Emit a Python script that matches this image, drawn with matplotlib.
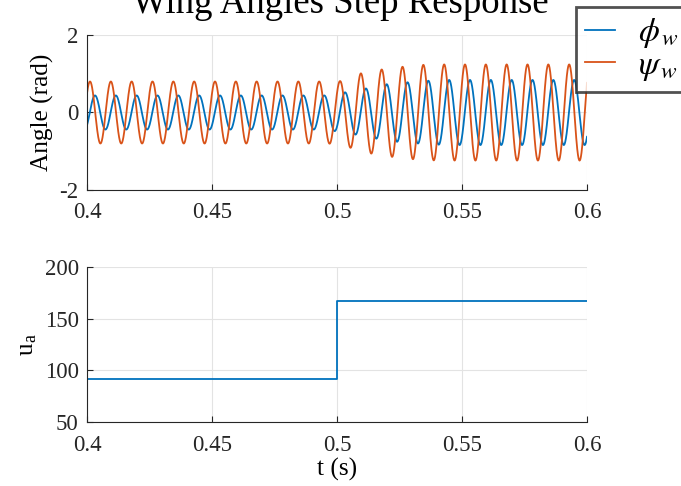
import matplotlib.pyplot as plt
import numpy as np

plt.rcParams['font.family'] = ['Liberation Serif', 'DejaVu Serif']
plt.rcParams['mathtext.fontset'] = 'stix'
plt.rcParams['axes.unicode_minus'] = False

# wingbeat
freq = 120.0            # Hz
t_peak0 = 0.4012        # first psi_w peak
phi_lag = 0.0020        # phi_w peak comes later by this

# peak amplitude of each wingbeat cycle (rad)
psi_amp = [0.80]*12 + [0.81, 1.01, 1.11, 1.18, 1.23, 1.24] + [1.24]*7
phi_amp = [0.44]*12 + [0.52, 0.62, 0.73, 0.78, 0.82, 0.84] + [0.84]*7

# control input
u_t = [0.4, 0.5, 0.6]
u_val = [91.7, 167.0, 167.0]

t = np.linspace(0.4, 0.6, 4000)
period = 1.0/freq
cyc_t = t_peak0 + period*np.arange(len(psi_amp))
psi = np.interp(t, cyc_t, psi_amp)*np.cos(2*np.pi*freq*(t - t_peak0))
phi = np.interp(t, cyc_t + phi_lag, phi_amp)*np.cos(2*np.pi*freq*(t - t_peak0 - phi_lag))

blue = '#0072BD'
orange = '#D95319'

fig = plt.figure(figsize=(6.81, 4.86), dpi=100)
ax1 = fig.add_axes([87/681, 1-190/486, 500/681, 155/486])
ax2 = fig.add_axes([87/681, 1-422/486, 500/681, 155/486])

for ax in (ax1, ax2):
    ax.spines['top'].set_visible(False)
    ax.spines['right'].set_visible(False)
    for s in ('left', 'bottom'):
        ax.spines[s].set_color('#262626')
        ax.spines[s].set_linewidth(0.8)
    ax.grid(True, color='#e3e3e3', linewidth=0.8)
    ax.set_axisbelow(True)
    ax.tick_params(direction='in', length=4, labelsize=16.5, colors='#262626',
                   width=0.8)
    ax.tick_params(axis='x', pad=9)
    ax.tick_params(axis='y', pad=6)
    ax.set_xlim(0.4, 0.6)
    ax.set_xticks([0.4, 0.45, 0.5, 0.55, 0.6])
    ax.set_xticklabels(['0.4', '0.45', '0.5', '0.55', '0.6'])

l1, = ax1.plot(t, phi, color=blue, lw=1.3)
l2, = ax1.plot(t, psi, color=orange, lw=1.3)
ax1.set_ylim(-2, 2)
ax1.set_yticks([-2, 0, 2])
ax1.set_ylabel('Angle (rad)', fontsize=18.2, labelpad=4)
fig.text(340.5/681, 1-13/486, 'Wing Angles Step Response', ha='center',
         va='baseline', fontsize=26.5)

leg = fig.legend([l1, l2], [r'$\phi_{\,w}$', r'$\psi_{\,w}$'], loc='upper left',
                 bbox_to_anchor=(576/681, 1-7/486), borderaxespad=0,
                 fontsize=24, frameon=True, fancybox=False, handlelength=0.9,
                 handletextpad=0.67, borderpad=0.28, labelspacing=0.0)
leg.get_frame().set_edgecolor('#262626')
leg.get_frame().set_linewidth(2)

ax2.plot(u_t, u_val, color=blue, lw=1.3, drawstyle='steps-post')
ax2.set_ylim(50, 200)
ax2.set_yticks([50, 100, 150, 200])
ax2.set_ylabel(r'u$_\mathregular{a}$', fontsize=18.2, labelpad=4)
ax2.set_xlabel('t (s)', fontsize=18.2, labelpad=2)

fig.savefig('out.png', dpi=100)
